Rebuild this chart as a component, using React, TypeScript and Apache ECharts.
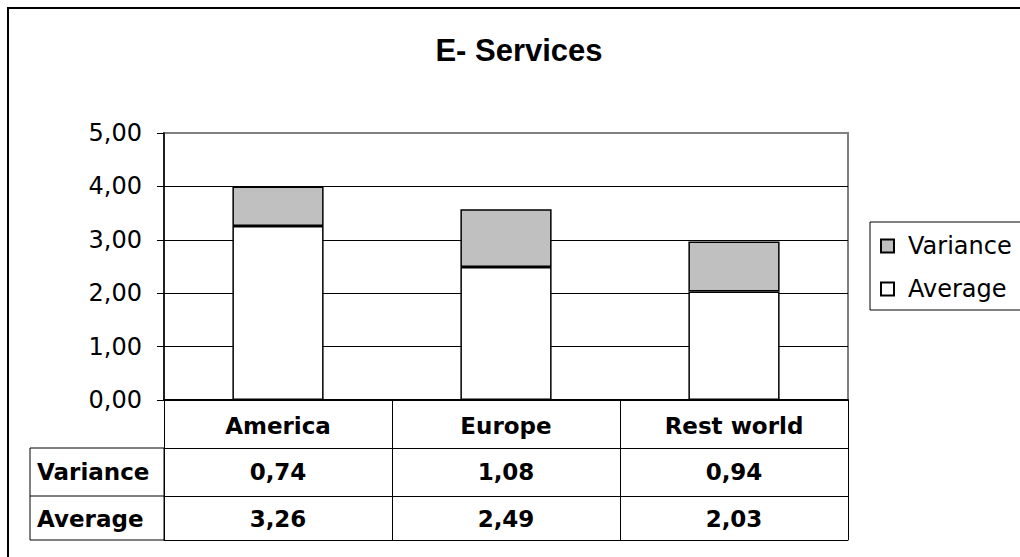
import React, { useEffect, useRef } from "react";
import * as echarts from "echarts";

// E-Services: average score and variance per region
const categories = ["America", "Europe", "Rest world"];
const averageValues = [3.26, 2.49, 2.03];
const varianceValues = [0.74, 1.08, 0.94];
const seriesNames = ["Variance", "Average"];
const chartTitle = "E- Services";

const W = 1020;
const H = 557;

// plot area and data table geometry
const GRID_LEFT = 164;
const GRID_RIGHT = 848;
const GRID_TOP = 133;
const GRID_BOTTOM = 400;
const ROW1 = 48; // header row height
const ROW2 = 48; // variance row height
const ROW3 = 44; // average row height
const TABLE_LEFT = 30;

const fmt = (v: number) => v.toFixed(2).replace(".", ",");

const LABEL_FONT = "DejaVu Sans";

export default function App() {
  const ref = useRef<HTMLDivElement>(null);

  useEffect(() => {
    if (!ref.current) return;
    const chart = echarts.init(ref.current, undefined, { renderer: "svg" });

    const tableAxis = (
      offset: number,
      tickLen: number,
      formatter: ((v: string, i: number) => string) | null,
      margin: number,
      lineWidth: number
    ) => ({
      type: "category",
      gridIndex: 0,
      position: "bottom",
      offset,
      data: categories,
      boundaryGap: true,
      axisLine: { show: true, lineStyle: { color: "#000", width: lineWidth } },
      axisTick: {
        show: tickLen > 0,
        length: tickLen,
        inside: false,
        lineStyle: { color: "#000", width: 1 },
      },
      axisLabel: formatter
        ? {
            show: true,
            formatter,
            margin,
            verticalAlign: "middle",
            fontFamily: LABEL_FONT,
            fontWeight: "bold",
            fontSize: 23,
            color: "#000",
          }
        : { show: false },
      splitLine: { show: false },
    });

    const rowTop1 = GRID_BOTTOM + ROW1;
    const rowTop2 = rowTop1 + ROW2;
    const tableBottom = rowTop2 + ROW3;

    chart.setOption({
      animation: false,
      backgroundColor: "#fff",
      grid: {
        left: GRID_LEFT,
        right: W - GRID_RIGHT,
        top: GRID_TOP,
        bottom: H - GRID_BOTTOM,
        show: true,
        borderColor: "#808080",
        borderWidth: 2,
        backgroundColor: "#fff",
      },
      legend: {
        orient: "vertical",
        left: 870,
        top: 222,
        data: seriesNames,
        icon: "rect",
        itemWidth: 13,
        itemHeight: 13,
        itemGap: 19,
        borderColor: "#000",
        borderWidth: 1,
        padding: [12, 20, 9, 10],
        textStyle: {
          fontFamily: LABEL_FONT,
          fontSize: 24,
          color: "#000",
          padding: [0, 0, 0, 9],
        },
      },
      xAxis: [
        tableAxis(0, ROW1, (v: string) => v, 26, 2),
        tableAxis(ROW1, ROW2, (_v: string, i: number) => fmt(varianceValues[i]), 24, 1),
        tableAxis(ROW1 + ROW2, ROW3, (_v: string, i: number) => fmt(averageValues[i]), 23, 1),
        tableAxis(ROW1 + ROW2 + ROW3, 0, null, 0, 1),
      ],
      yAxis: {
        type: "value",
        min: 0,
        max: 5,
        interval: 1,
        axisLine: { show: true, lineStyle: { color: "#000", width: 1.5 } },
        axisTick: { show: true, length: 7, inside: false, lineStyle: { color: "#000", width: 1 } },
        axisLabel: {
          formatter: (v: number) => fmt(v),
          margin: 22,
          fontFamily: LABEL_FONT,
          fontSize: 24,
          color: "#000",
        },
        splitLine: {
          show: true,
          showMaxLine: false,
          lineStyle: { color: "#000", width: 1 },
        },
      },
      series: [
        {
          name: "Average",
          type: "bar",
          stack: "total",
          xAxisIndex: 0,
          barWidth: "40%",
          data: averageValues,
          itemStyle: { color: "#ffffff", borderColor: "#000", borderWidth: 1.5 },
        },
        {
          name: "Variance",
          type: "bar",
          stack: "total",
          xAxisIndex: 0,
          barWidth: "40%",
          data: varianceValues,
          itemStyle: { color: "#c0c0c0", borderColor: "#000", borderWidth: 1.5 },
        },
      ],
      graphic: [
        // outer chart frame
        {
          type: "rect",
          shape: { x: 8, y: 8, width: W + 40, height: H + 40 },
          style: { fill: "none", stroke: "#000", lineWidth: 2 },
          silent: true,
        },
        {
          type: "text",
          x: 519,
          y: 50,
          style: {
            text: chartTitle,
            fontFamily: "Liberation Sans",
            fontWeight: "bold",
            fontSize: 31,
            fill: "#000",
            align: "center",
            verticalAlign: "middle",
          },
        },
        // row-label column of the data table
        {
          type: "rect",
          shape: {
            x: TABLE_LEFT,
            y: rowTop1,
            width: GRID_LEFT - TABLE_LEFT,
            height: tableBottom - rowTop1,
          },
          style: { fill: "none", stroke: "#000", lineWidth: 1 },
          silent: true,
        },
        {
          type: "line",
          shape: { x1: TABLE_LEFT, y1: rowTop2, x2: GRID_LEFT, y2: rowTop2 },
          style: { stroke: "#000", lineWidth: 1 },
          silent: true,
        },
        {
          type: "text",
          x: TABLE_LEFT + 7,
          y: rowTop1 + ROW2 / 2,
          style: {
            text: seriesNames[0],
            fontFamily: LABEL_FONT,
            fontWeight: "bold",
            fontSize: 23,
            fill: "#000",
            align: "left",
            verticalAlign: "middle",
          },
        },
        {
          type: "text",
          x: TABLE_LEFT + 7,
          y: rowTop2 + ROW3 / 2 + 1,
          style: {
            text: seriesNames[1],
            fontFamily: LABEL_FONT,
            fontWeight: "bold",
            fontSize: 23,
            fill: "#000",
            align: "left",
            verticalAlign: "middle",
          },
        },
      ],
    });

    return () => chart.dispose();
  }, []);

  return (
    <div
      ref={ref}
      style={{ position: "absolute", left: 0, top: 0, width: W, height: H }}
    />
  );
}
